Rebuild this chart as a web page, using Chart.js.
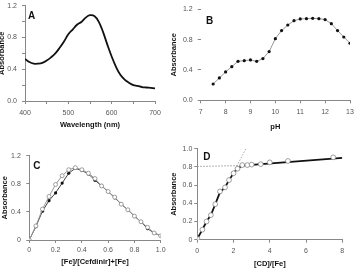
<!DOCTYPE html>
<html>
<head>
<meta charset="utf-8">
<script src="https://cdn.jsdelivr.net/npm/chart.js@4/dist/chart.umd.min.js"></script>
<style>
  body { margin: 0; background: #fff; }
  #painel { position: relative; width: 361px; height: 269px; overflow: hidden; }
  canvas { position: absolute; }
</style>
</head>
<body>
<div id="painel">
  <canvas id="graficoA" width="166" height="134" style="left:0;top:0"></canvas>
  <canvas id="graficoB" width="195" height="134" style="left:166px;top:0"></canvas>
  <canvas id="graficoC" width="166" height="135" style="left:0;top:134px"></canvas>
  <canvas id="graficoD" width="195" height="135" style="left:166px;top:134px"></canvas>
</div>
<script>
// A - spectrum
var wavelengthNm = [400, 410, 420, 430, 440, 450, 460, 470, 480, 490, 500, 510, 520, 530, 540, 550,
                    560, 570, 580, 590, 600, 610, 620, 630, 640, 650, 660, 670, 680, 690, 700];
var absorbanceA = [0.53, 0.49, 0.47, 0.47, 0.48, 0.51, 0.55, 0.60, 0.67, 0.75, 0.84, 0.90, 0.96, 0.995, 1.05, 1.08,
                   1.07, 1.00, 0.87, 0.71, 0.56, 0.43, 0.33, 0.27, 0.23, 0.20, 0.19, 0.175, 0.17, 0.165, 0.16];

// B - pH
var phValues = [7.5, 7.75, 8, 8.25, 8.5, 8.75, 9, 9.25, 9.5, 9.75, 10, 10.25, 10.5, 10.75,
                11, 11.25, 11.5, 11.75, 12, 12.25, 12.5, 12.75, 13];
var absorbanceB = [0.215, 0.295, 0.374, 0.444, 0.514, 0.523, 0.532, 0.514, 0.55, 0.642, 0.813, 0.919, 0.993, 1.05,
                   1.073, 1.077, 1.081, 1.077, 1.064, 1.011, 0.919, 0.835, 0.752];

// C - continuous variation
var fracaoFe = [0, 0.05, 0.1, 0.15, 0.2, 0.25, 0.3, 0.35, 0.4, 0.45, 0.5, 0.55, 0.6, 0.65, 0.7, 0.75, 0.8, 0.85, 0.9, 0.95, 1];
var absorbanceCAberto = [0, 0.2, 0.44, 0.62, 0.79, 0.915, 1.0, 1.03, 1.0, 0.95, 0.875, 0.77, 0.69, 0.61, 0.51, 0.43, 0.34, 0.26, 0.18, 0.10, 0.06];
var absorbanceCCheio = [0, 0.19, 0.41, 0.56, 0.67, 0.81, 0.95, 1.02, 0.99, 0.94, 0.85, 0.77, 0.69, 0.60, 0.51, 0.43, 0.34, 0.26, 0.16, 0.10, 0.06];

// D - mole ratio
var razaoCD = [0, 0.28, 0.51, 0.75, 0.99, 1.25, 1.53, 1.75, 2.0, 2.22, 2.48, 2.76, 3.0, 3.5, 4.0, 5.0, 7.5];
var absorbanceD = [0.01, 0.11, 0.2, 0.27, 0.39, 0.53, 0.575, 0.655, 0.73, 0.78, 0.82, 0.82, 0.825, 0.83, 0.85, 0.865, 0.905];
var linhaPretaX = [0, 0.28, 0.51, 0.75, 0.99, 1.25, 1.53, 1.75, 2.0, 2.22, 2.48, 8];
var linhaPretaY = [0.01, 0.11, 0.2, 0.27, 0.39, 0.52, 0.575, 0.655, 0.73, 0.78, 0.815, 0.9];
var tracejadoHX = [0, 2.5];
var tracejadoHY = [0.805, 0.815];
var tracejadoIX = [1.95, 2.68];
var tracejadoIY = [0.72, 1.0];

Chart.defaults.font.family = '"Liberation Sans", Arial, sans-serif';
Chart.defaults.font.size = 7;
Chart.defaults.color = '#555';

function pontos(xs, ys) {
    return xs.map(function (x, i) { return { x: x, y: ys[i] }; });
}

function semPadding(s) {
    s.paddingTop = 0; s.paddingBottom = 0; s.paddingLeft = 0; s.paddingRight = 0;
}

function escala(eixo, min, max, passo, titulo, tamanho, padTitulo, padTick, formato, mostrarBorda) {
    var e = {
        type: 'linear', min: min, max: max,
        border: { display: mostrarBorda !== false, color: '#888', width: 1 },
        grid: { drawOnChartArea: false, tickLength: 3, color: '#888' },
        ticks: { stepSize: passo, autoSkip: false, maxRotation: 0, padding: padTick, color: '#555' },
        title: { display: true, text: titulo, color: '#111', font: { weight: 'bold', size: 7.5 } },
        afterFit: function (s) {
            if (eixo === 'x') s.height = tamanho; else s.width = tamanho;
            semPadding(s);
        }
    };
    if (formato) e.ticks.callback = formato;
    e.title.padding = eixo === 'x' ? { top: 0, bottom: padTitulo } : { top: padTitulo, bottom: 0 };
    return e;
}

var pluginLetra = {
    id: 'letra',
    afterDraw: function (chart, args, opts) {
        var ctx = chart.ctx;
        ctx.save();
        ctx.font = 'bold 10px "Liberation Sans", Arial, sans-serif';
        ctx.fillStyle = '#111';
        ctx.fillText(opts.text, chart.chartArea.left + opts.dx, chart.chartArea.top + opts.dy);
        ctx.restore();
    }
};

function opcoes(pad, x, y, letra) {
    return {
        responsive: false,
        animation: false,
        devicePixelRatio: 1,
        layout: { padding: pad },
        plugins: { legend: { display: false }, tooltip: { enabled: false }, letra: letra },
        scales: { x: x, y: y }
    };
}

function cadaMultiplo(m, casas) {
    return function (v) {
        var r = v / m;
        return Math.abs(r - Math.round(r)) < 1e-6 ? v.toFixed(casas) : '';
    };
}

new Chart(document.getElementById('graficoA'), {
    type: 'line',
    data: { datasets: [{
        data: pontos(wavelengthNm, absorbanceA),
        borderColor: '#111', borderWidth: 1.8, pointRadius: 0, tension: 0.4, fill: false
    }] },
    options: opcoes({ top: 5.7, right: 11, left: 0, bottom: 0 },
        escala('x', 400, 700, 50, 'Wavelength (nm)', 33, 4.5, 5, cadaMultiplo(100, 0)),
        escala('y', 0, 1.2, 0.2, 'Absorbance', 25, -2.5, 5, cadaMultiplo(0.4, 1)),
        { text: 'A', dx: 3, dy: 13.3 }),
    plugins: [pluginLetra]
});

new Chart(document.getElementById('graficoB'), {
    type: 'line',
    data: { datasets: [{
        data: pontos(phValues, absorbanceB),
        borderColor: '#999', borderWidth: 1, tension: 0,
        pointRadius: 1.6, pointBackgroundColor: '#111', pointBorderColor: '#111', pointBorderWidth: 0
    }] },
    options: opcoes({ top: 9.3, right: 11, left: 0, bottom: 0 },
        escala('x', 7, 13, 1, 'pH', 33.7, 2.8, 5),
        escala('y', 0, 1.2, 0.4, 'Absorbance', 34.7, 3.5, 5, cadaMultiplo(0.4, 1), false),
        { text: 'B', dx: 5.3, dy: 14.7 }),
    plugins: [pluginLetra]
});

new Chart(document.getElementById('graficoC'), {
    type: 'line',
    data: { datasets: [{
        data: pontos(fracaoFe, absorbanceCAberto),
        borderColor: '#999', borderWidth: 1, tension: 0,
        pointRadius: 2, pointBackgroundColor: '#fff', pointBorderColor: '#888', pointBorderWidth: 0.8
    }, {
        data: pontos(fracaoFe, absorbanceCCheio),
        borderColor: '#444', borderWidth: 1, tension: 0,
        pointRadius: 1.6, pointBackgroundColor: '#111', pointBorderColor: '#111', pointBorderWidth: 0
    }] },
    options: opcoes({ top: 21.7, right: 5.3, left: 0, bottom: 0 },
        escala('x', 0, 1, 0.2, '[Fe]/[Cefdinir]+[Fe]', 29, 2.8, 3),
        escala('y', 0, 1.2, 0.4, 'Absorbance', 29.3, 0.5, 5.5),
        { text: 'C', dx: 4, dy: 13.3 }),
    plugins: [pluginLetra]
});

new Chart(document.getElementById('graficoD'), {
    type: 'line',
    data: { datasets: [{
        data: pontos(razaoCD, absorbanceD),
        showLine: false,
        pointRadius: 2.4, pointBackgroundColor: '#fff', pointBorderColor: '#888', pointBorderWidth: 0.8
    }, {
        data: pontos(linhaPretaX, linhaPretaY),
        borderColor: '#111', borderWidth: 1.8, pointRadius: 0, tension: 0
    }, {
        data: pontos(tracejadoHX, tracejadoHY),
        borderColor: '#999', borderWidth: 1, borderDash: [1.5, 1.5], pointRadius: 0
    }, {
        data: pontos(tracejadoIX, tracejadoIY),
        borderColor: '#aaa', borderWidth: 1, borderDash: [1.5, 1.5], pointRadius: 0
    }] },
    options: opcoes({ top: 14.7, right: 18.7, left: 0, bottom: 0 },
        escala('x', 0, 8, 2, '[CD]/[Fe]', 29.3, 0.5, 4),
        escala('y', 0, 1, 0.2, 'Absorbance', 31.3, 3.5, 2),
        { text: 'D', dx: 6, dy: 11 }),
    plugins: [pluginLetra]
});
</script>
</body>
</html>
